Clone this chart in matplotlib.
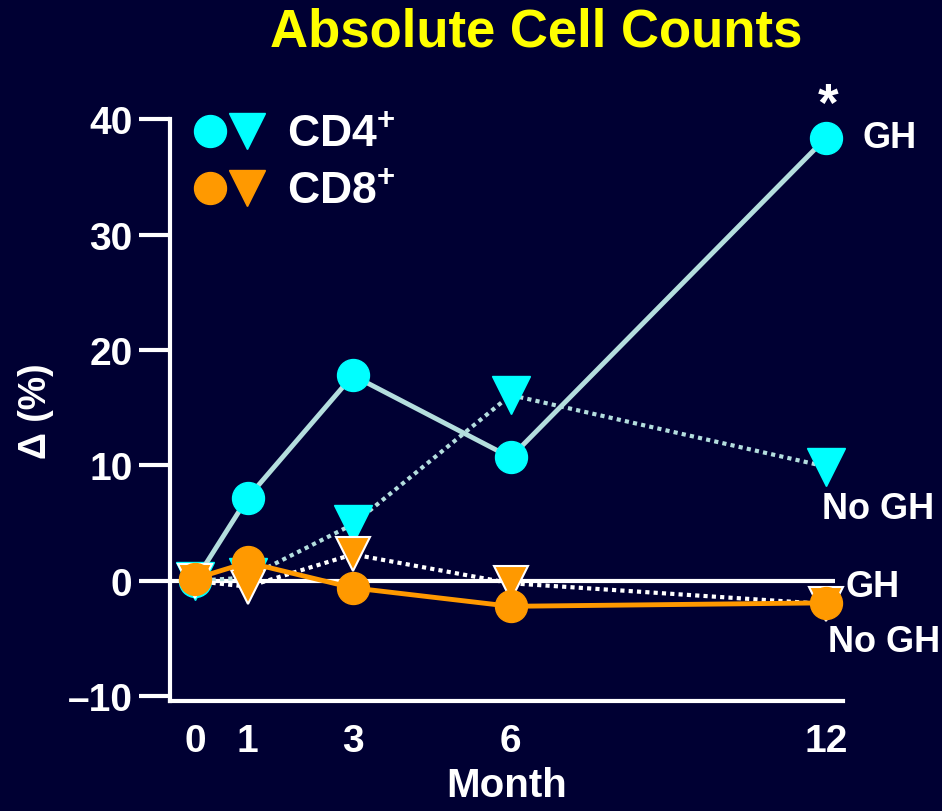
import matplotlib
matplotlib.use("Agg")
import matplotlib.pyplot as plt
from matplotlib.lines import Line2D
from matplotlib.legend_handler import HandlerTuple

plt.rcParams['font.family'] = ['Liberation Sans', 'DejaVu Sans']
plt.rcParams['font.weight'] = 'bold'
plt.rcParams['mathtext.fontset'] = 'custom'
plt.rcParams['mathtext.rm'] = 'Liberation Sans:bold'
plt.rcParams['mathtext.bf'] = 'Liberation Sans:bold'

months = [0, 1, 3, 6, 12]
cd4_gh = [0.0, 7.2, 17.8, 10.7, 38.4]
cd4_nogh = [0.0, 0.3, 4.9, 16.1, 9.9]
cd8_gh = [0.2, 1.6, -0.6, -2.2, -1.9]
cd8_nogh = [0.0, -0.5, 2.3, -0.2, -2.0]
yticks = [-10, 0, 10, 20, 30, 40]
ytick_labels = ["\u201310", "0", "10", "20", "30", "40"]

bg = '#000033'
cyan = '#00ffff'
orange = '#ff9900'
pale = '#b4dede'

fig = plt.figure(figsize=(9.42, 8.12), dpi=100, facecolor=bg)
ax = fig.add_axes([0.1805, 0.1355, 0.895 - 0.1805, 0.852 - 0.1355])
ax.set_facecolor(bg)

xmin, xmax = -0.475, 12.32
ax.set_xlim(xmin, xmax)
ax.set_ylim(-10.4, 40)

# zero reference line
ax.hlines(0, xmin, 12.17, color='white', lw=3, zorder=1)

ax.plot(months, cd4_nogh, color=pale, lw=3, ls=(0, (1, 1)), marker='v', ms=27,
        mfc=cyan, mec=cyan, zorder=2, clip_on=False)
ax.plot(months, cd4_gh, color=pale, lw=3.5, marker='o', ms=23,
        mfc=cyan, mec=cyan, zorder=3, clip_on=False)
ax.plot(months, cd8_nogh, color='white', lw=3, ls=(0, (1, 1)), marker='v', ms=25,
        mfc=orange, mec='white', mew=1.5, zorder=4, clip_on=False)
ax.plot(months, cd8_gh, color=orange, lw=3.5, marker='o', ms=23,
        mfc=orange, mec=orange, zorder=5, clip_on=False)

for s in ['top', 'right']:
    ax.spines[s].set_visible(False)
for s in ['left', 'bottom']:
    ax.spines[s].set_color('white')
    ax.spines[s].set_linewidth(3)

ax.set_yticks(yticks)
ax.set_yticklabels(ytick_labels)
ax.set_xticks(months)
ax.set_xticklabels([str(m) for m in months])
ax.tick_params(axis='y', direction='out', length=22, width=3, color='white',
               labelcolor='white', labelsize=28, pad=5)
ax.tick_params(axis='x', length=0, labelcolor='white', labelsize=28, pad=16)

ax.set_xlabel("Month", color='white', fontsize=29, fontweight='bold', labelpad=5)
ax.set_ylabel("\u0394 (%)", color='white', fontsize=27, fontweight='bold', labelpad=10)

fig.text(0.5695, 0.96, "Absolute Cell Counts", color='#ffff00', fontsize=38,
         fontweight='bold', ha='center', va='center')

# end labels
lab = dict(color='white', fontsize=26, fontweight='bold', textcoords='offset points',
           va='center', annotation_clip=False)
ax.annotate("GH", xy=(12, cd4_gh[-1]), xytext=(26, 0), ha='left', **lab)
ax.annotate("No GH", xy=(12, cd4_nogh[-1]), xytext=(-3, -30), ha='left', **lab)
ax.annotate("GH", xy=(12, 0), xytext=(14, -4), ha='left', **lab)
ax.annotate("No GH", xy=(12, cd8_nogh[-1]), xytext=(1.5, -27), ha='left', **lab)
ax.annotate("*", xy=(12, cd4_gh[-1]), xytext=(1, 23), ha='center', va='center',
            color='white', fontsize=38, fontweight='bold', textcoords='offset points',
            annotation_clip=False)

h4 = (Line2D([], [], ls='none', marker='o', ms=23, mfc=cyan, mec=cyan),
      Line2D([], [], ls='none', marker='v', ms=26, mfc=cyan, mec=cyan))
h8 = (Line2D([], [], ls='none', marker='o', ms=23, mfc=orange, mec=orange),
      Line2D([], [], ls='none', marker='v', ms=26, mfc=orange, mec=orange))
leg = fig.legend([h4, h8], ["CD4$^{+}$", "CD8$^{+}$"],
                 handler_map={tuple: HandlerTuple(ndivide=None, pad=0)},
                 loc='upper left', bbox_to_anchor=(0.2033, 0.858),
                 frameon=False, fontsize=32, handlelength=1.67, handletextpad=0.48,
                 borderpad=0, borderaxespad=0, labelspacing=0.36)
for t in leg.get_texts():
    t.set_color('white')

fig.savefig("out.png", dpi=100, facecolor=bg)
